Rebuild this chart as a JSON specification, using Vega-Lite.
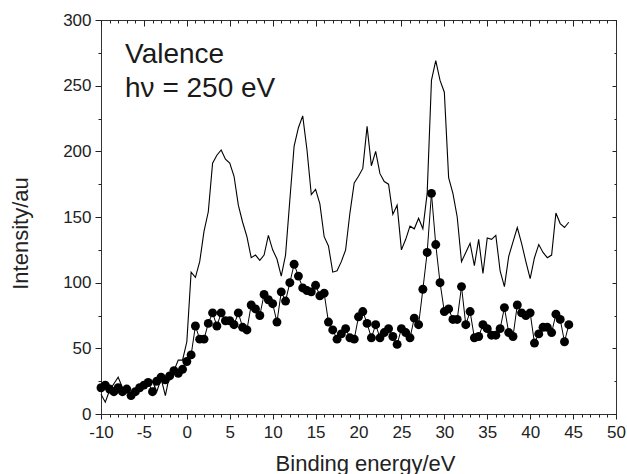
{
  "$schema": "https://vega.github.io/schema/vega-lite/v6.json",
  "width": 515,
  "height": 394,
  "autosize": "none",
  "padding": {"left": 101, "top": 20, "right": 11, "bottom": 60},
  "background": "white",
  "config": {
    "view": {"stroke": "#333", "strokeWidth": 1},
    "font": "Liberation Sans",
    "axis": {
      "grid": false,
      "domain": false,
      "tickColor": "#222",
      "tickWidth": 1,
      "labelFont": "Liberation Sans",
      "labelFontSize": 17,
      "labelColor": "#222",
      "titleFont": "Liberation Sans",
      "titleFontSize": 22,
      "titleFontWeight": "normal",
      "titleColor": "#222"
    }
  },
  "datasets": {
    "spectra": [
      {"e": -10, "upper": 15, "lower": 20},
      {"e": -9.5, "upper": 9, "lower": 22},
      {"e": -9, "upper": 18, "lower": 19},
      {"e": -8.5, "upper": 23, "lower": 17},
      {"e": -8, "upper": 28, "lower": 20},
      {"e": -7.5, "upper": 20, "lower": 17},
      {"e": -7, "upper": 18, "lower": 19},
      {"e": -6.5, "upper": 16, "lower": 14},
      {"e": -6, "upper": 17, "lower": 17},
      {"e": -5.5, "upper": 20, "lower": 20},
      {"e": -5, "upper": 22, "lower": 22},
      {"e": -4.5, "upper": 23, "lower": 24},
      {"e": -4, "upper": 25, "lower": 17},
      {"e": -3.5, "upper": 17, "lower": 25},
      {"e": -3, "upper": 27, "lower": 28},
      {"e": -2.5, "upper": 14, "lower": 26},
      {"e": -2, "upper": 30, "lower": 29},
      {"e": -1.5, "upper": 33, "lower": 33},
      {"e": -1, "upper": 41, "lower": 31},
      {"e": -0.5, "upper": 41, "lower": 34},
      {"e": 0, "upper": 55, "lower": 40},
      {"e": 0.5, "upper": 108, "lower": 45},
      {"e": 1, "upper": 104, "lower": 67},
      {"e": 1.5, "upper": 116, "lower": 57},
      {"e": 2, "upper": 139, "lower": 57},
      {"e": 2.5, "upper": 154, "lower": 69},
      {"e": 3, "upper": 191, "lower": 77},
      {"e": 3.5, "upper": 197, "lower": 67},
      {"e": 4, "upper": 201, "lower": 77},
      {"e": 4.5, "upper": 194, "lower": 71},
      {"e": 5, "upper": 191, "lower": 71},
      {"e": 5.5, "upper": 181, "lower": 68},
      {"e": 6, "upper": 159, "lower": 77},
      {"e": 6.5, "upper": 146, "lower": 66},
      {"e": 7, "upper": 135, "lower": 64},
      {"e": 7.5, "upper": 119, "lower": 83},
      {"e": 8, "upper": 121, "lower": 80},
      {"e": 8.5, "upper": 117, "lower": 75},
      {"e": 9, "upper": 121, "lower": 91},
      {"e": 9.5, "upper": 136, "lower": 87},
      {"e": 10, "upper": 125, "lower": 84},
      {"e": 10.5, "upper": 118, "lower": 70},
      {"e": 11, "upper": 105, "lower": 93},
      {"e": 11.5, "upper": 121, "lower": 86},
      {"e": 12, "upper": 163, "lower": 100},
      {"e": 12.5, "upper": 204, "lower": 114},
      {"e": 13, "upper": 218, "lower": 105},
      {"e": 13.5, "upper": 227, "lower": 96},
      {"e": 14, "upper": 201, "lower": 94},
      {"e": 14.5, "upper": 167, "lower": 93},
      {"e": 15, "upper": 171, "lower": 98},
      {"e": 15.5, "upper": 160, "lower": 90},
      {"e": 16, "upper": 135, "lower": 92},
      {"e": 16.5, "upper": 128, "lower": 70},
      {"e": 17, "upper": 108, "lower": 64},
      {"e": 17.5, "upper": 109, "lower": 57},
      {"e": 18, "upper": 116, "lower": 61},
      {"e": 18.5, "upper": 125, "lower": 65},
      {"e": 19, "upper": 153, "lower": 58},
      {"e": 19.5, "upper": 176, "lower": 57},
      {"e": 20, "upper": 181, "lower": 74},
      {"e": 20.5, "upper": 187, "lower": 78},
      {"e": 21, "upper": 219, "lower": 69},
      {"e": 21.5, "upper": 189, "lower": 58},
      {"e": 22, "upper": 200, "lower": 68},
      {"e": 22.5, "upper": 183, "lower": 58},
      {"e": 23, "upper": 177, "lower": 62},
      {"e": 23.5, "upper": 175, "lower": 65},
      {"e": 24, "upper": 152, "lower": 59},
      {"e": 24.5, "upper": 159, "lower": 53},
      {"e": 25, "upper": 125, "lower": 65},
      {"e": 25.5, "upper": 133, "lower": 62},
      {"e": 26, "upper": 143, "lower": 58},
      {"e": 26.5, "upper": 141, "lower": 73},
      {"e": 27, "upper": 149, "lower": 68},
      {"e": 27.5, "upper": 141, "lower": 95},
      {"e": 28, "upper": 168, "lower": 123},
      {"e": 28.5, "upper": 254, "lower": 168},
      {"e": 29, "upper": 269, "lower": 129},
      {"e": 29.5, "upper": 254, "lower": 100},
      {"e": 30, "upper": 245, "lower": 78},
      {"e": 30.5, "upper": 180, "lower": 80},
      {"e": 31, "upper": 168, "lower": 72},
      {"e": 31.5, "upper": 150, "lower": 72},
      {"e": 32, "upper": 116, "lower": 97},
      {"e": 32.5, "upper": 123, "lower": 68},
      {"e": 33, "upper": 130, "lower": 78},
      {"e": 33.5, "upper": 113, "lower": 58},
      {"e": 34, "upper": 133, "lower": 59},
      {"e": 34.5, "upper": 107, "lower": 68},
      {"e": 35, "upper": 134, "lower": 65},
      {"e": 35.5, "upper": 133, "lower": 60},
      {"e": 36, "upper": 136, "lower": 60},
      {"e": 36.5, "upper": 109, "lower": 65},
      {"e": 37, "upper": 97, "lower": 81},
      {"e": 37.5, "upper": 120, "lower": 62},
      {"e": 38, "upper": 131, "lower": 59},
      {"e": 38.5, "upper": 142, "lower": 83},
      {"e": 39, "upper": 130, "lower": 77},
      {"e": 39.5, "upper": 116, "lower": 75},
      {"e": 40, "upper": 103, "lower": 77},
      {"e": 40.5, "upper": 119, "lower": 54},
      {"e": 41, "upper": 129, "lower": 61},
      {"e": 41.5, "upper": 123, "lower": 66},
      {"e": 42, "upper": 119, "lower": 66},
      {"e": 42.5, "upper": 121, "lower": 62},
      {"e": 43, "upper": 153, "lower": 76},
      {"e": 43.5, "upper": 145, "lower": 72},
      {"e": 44, "upper": 142, "lower": 55},
      {"e": 44.5, "upper": 146, "lower": 68}
    ],
    "notes": [
      {"e": -7.2, "v": 267, "label": "Valence"},
      {"e": -7.2, "v": 241.5, "label": "hν = 250 eV"}
    ]
  },
  "resolve": {"axis": {"x": "independent", "y": "independent"}},
  "layer": [
    {
      "data": {"name": "spectra"},
      "mark": {"type": "line", "color": "black", "strokeWidth": 1.1},
      "encoding": {
        "x": {
          "field": "e",
          "type": "quantitative",
          "scale": {"domain": [-10, 50], "nice": false, "zero": false},
          "axis": {
            "orient": "bottom",
            "values": [-10, -5, 0, 5, 10, 15, 20, 25, 30, 35, 40, 45, 50],
            "labelExpr": "replace(datum.label, '\u2212', '-')",
            "tickSize": 5,
            "labelPadding": 5,
            "labelFlush": false,
            "labelOverlap": false,
            "title": "Binding energy/eV",
            "titleX": 264,
            "titleY": 56,
            "titleBaseline": "alphabetic"
          }
        },
        "y": {
          "field": "upper",
          "type": "quantitative",
          "scale": {"domain": [0, 300], "nice": false},
          "axis": {
            "orient": "left",
            "values": [0, 50, 100, 150, 200, 250, 300],
            "tickSize": 6,
            "labelPadding": 4,
            "labelOverlap": false,
            "title": "Intensity/au",
            "titleX": -74,
            "titleY": 213,
            "titleAngle": -90,
            "titleBaseline": "alphabetic"
          }
        }
      }
    },
    {
      "data": {"name": "spectra"},
      "mark": {"type": "line", "color": "black", "strokeWidth": 1},
      "encoding": {
        "x": {
          "field": "e",
          "type": "quantitative",
          "scale": {"domain": [-10, 50], "nice": false, "zero": false},
          "axis": {
            "orient": "bottom",
            "values": [-10, -9, -8, -7, -6, -5, -4, -3, -2, -1, 0, 1, 2, 3, 4, 5, 6, 7, 8, 9, 10, 11, 12, 13, 14, 15, 16, 17, 18, 19, 20, 21, 22, 23, 24, 25, 26, 27, 28, 29, 30, 31, 32, 33, 34, 35, 36, 37, 38, 39, 40, 41, 42, 43, 44, 45, 46, 47, 48, 49, 50],
            "tickSize": 3,
            "labels": false,
            "title": null
          }
        },
        "y": {
          "field": "lower",
          "type": "quantitative",
          "scale": {"domain": [0, 300], "nice": false},
          "axis": {
            "orient": "left",
            "values": [25, 75, 125, 175, 225, 275],
            "tickSize": 3,
            "labels": false,
            "title": null
          }
        }
      }
    },
    {
      "data": {"name": "spectra"},
      "mark": {"type": "circle", "color": "black", "size": 80, "opacity": 1},
      "encoding": {
        "x": {
          "field": "e",
          "type": "quantitative",
          "scale": {"domain": [-10, 50], "nice": false, "zero": false},
          "axis": {
            "orient": "top",
            "values": [-10, -5, 0, 5, 10, 15, 20, 25, 30, 35, 40, 45, 50],
            "tickSize": -6,
            "labels": false,
            "title": null
          }
        },
        "y": {
          "field": "lower",
          "type": "quantitative",
          "scale": {"domain": [0, 300], "nice": false},
          "axis": {
            "orient": "right",
            "values": [0, 50, 100, 150, 200, 250, 300],
            "tickSize": -4,
            "labels": false,
            "title": null
          }
        }
      }
    },
    {
      "data": {"name": "notes"},
      "mark": {
        "type": "text",
        "align": "left",
        "baseline": "alphabetic",
        "fontSize": 28,
        "font": "Liberation Sans",
        "color": "#1a1a1a"
      },
      "encoding": {
        "x": {
          "field": "e",
          "type": "quantitative",
          "scale": {"domain": [-10, 50], "nice": false, "zero": false},
          "axis": {
            "orient": "top",
            "values": [-10, -9, -8, -7, -6, -5, -4, -3, -2, -1, 0, 1, 2, 3, 4, 5, 6, 7, 8, 9, 10, 11, 12, 13, 14, 15, 16, 17, 18, 19, 20, 21, 22, 23, 24, 25, 26, 27, 28, 29, 30, 31, 32, 33, 34, 35, 36, 37, 38, 39, 40, 41, 42, 43, 44, 45, 46, 47, 48, 49, 50],
            "tickSize": -3,
            "labels": false,
            "title": null
          }
        },
        "y": {
          "field": "v",
          "type": "quantitative",
          "scale": {"domain": [0, 300], "nice": false},
          "axis": {
            "orient": "right",
            "values": [25, 75, 125, 175, 225, 275],
            "tickSize": -2,
            "labels": false,
            "title": null
          }
        },
        "text": {"field": "label", "type": "nominal"}
      }
    }
  ]
}
